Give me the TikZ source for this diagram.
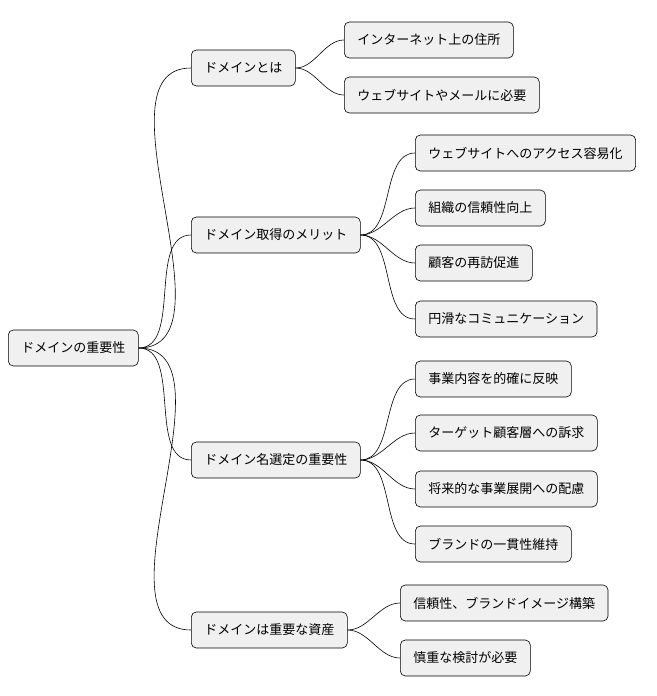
\documentclass[tikz,border=0pt]{standalone}
\usepackage{fontspec}
\setmainfont{Noto Sans CJK JP}
\tikzset{
  idea/.style={draw, fill=gray!12, rounded corners=5pt, line width=0.6pt,
    minimum height=36pt, inner xsep=13pt, anchor=west, font=\fontsize{13}{15}\selectfont},
  branch/.style={line width=0.6pt, out=0, in=180, looseness=0.9}
}
\begin{document}
\begin{tikzpicture}[x=1pt,y=-1pt]
\useasboundingbox (0,0) rectangle (656,696);

\node[idea] (root) at (8,348) {ドメインの重要性};

\node[idea] (what) at (191,68) {ドメインとは};
\node[idea] (merit) at (191,235) {ドメイン取得のメリット};
\node[idea] (choice) at (191,460) {ドメイン名選定の重要性};
\node[idea] (asset) at (191,630) {ドメインは重要な資産};

\node[idea] (w1) at (344,40) {インターネット上の住所};
\node[idea] (w2) at (344,95) {ウェブサイトやメールに必要};

\node[idea] (m1) at (415,153) {ウェブサイトへのアクセス容易化};
\node[idea] (m2) at (415,208) {組織の信頼性向上};
\node[idea] (m3) at (415,263) {顧客の再訪促進};
\node[idea] (m4) at (415,319) {円滑なコミュニケーション};

\node[idea] (c1) at (415,379) {事業内容を的確に反映};
\node[idea] (c2) at (415,433) {ターゲット顧客層への訴求};
\node[idea] (c3) at (415,489) {将来的な事業展開への配慮};
\node[idea] (c4) at (415,544) {ブランドの一貫性維持};

\node[idea] (a1) at (400,603) {信頼性、ブランドイメージ構築};
\node[idea] (a2) at (400,658) {慎重な検討が必要};

\path[branch]
(root.east) edge (what.west) edge (merit.west) edge (choice.west) edge (asset.west)
(what.east) edge (w1.west) edge (w2.west)
(merit.east) edge (m1.west) edge (m2.west) edge (m3.west) edge (m4.west)
(choice.east) edge (c1.west) edge (c2.west) edge (c3.west) edge (c4.west)
(asset.east) edge (a1.west) edge (a2.west);
\end{tikzpicture}
\end{document}
